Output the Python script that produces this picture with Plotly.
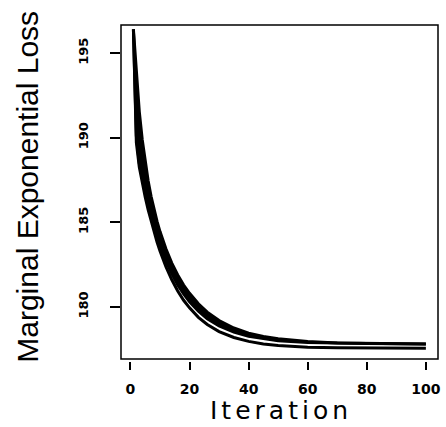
import plotly.graph_objects as go

# Marginal exponential loss per iteration for three runs
iterations = [1, 2, 3, 4, 5, 6, 7, 8, 9, 10, 12, 14, 16, 18, 20, 23, 26, 30,
              35, 40, 45, 50, 60, 70, 80, 90, 100]

loss_lower = [196.40, 189.71, 188.25, 187.30, 186.48, 185.73, 185.04, 184.41,
              183.83, 183.30, 182.37, 181.60, 180.94, 180.39, 179.94, 179.38,
              178.96, 178.54, 178.19, 177.96, 177.81, 177.72, 177.62, 177.58,
              177.56, 177.55, 177.55]

loss_upper_fast = [196.40, 190.11, 188.47, 187.52, 186.71, 185.98, 185.32,
                   184.71, 184.14, 183.63, 182.72, 181.95, 181.30, 180.76,
                   180.30, 179.74, 179.30, 178.87, 178.51, 178.26, 178.11,
                   178.00, 177.89, 177.85, 177.83, 177.82, 177.81]

loss_upper_slow = [196.40, 193.64, 191.53, 189.87, 188.54, 187.44, 186.52,
                   185.74, 185.05, 184.45, 183.43, 182.59, 181.89, 181.29,
                   180.80, 180.18, 179.69, 179.19, 178.75, 178.45, 178.25,
                   178.11, 177.95, 177.87, 177.84, 177.82, 177.81]

x_ticks = [0, 20, 40, 60, 80, 100]
y_ticks = [180, 185, 190, 195]

LINE_W = 3

fig = go.Figure()
fig.add_trace(go.Scatter(x=iterations, y=loss_upper_fast, mode="lines",
                         line=dict(color="black", width=LINE_W)))
fig.add_trace(go.Scatter(x=iterations, y=loss_upper_slow, mode="lines",
                         line=dict(color="black", width=LINE_W),
                         fill="tonexty", fillcolor="black"))
fig.add_trace(go.Scatter(x=iterations, y=loss_lower, mode="lines",
                         line=dict(color="black", width=LINE_W)))

fig.update_layout(
    width=446, height=427,
    margin=dict(l=121, r=5, t=25, b=66),
    paper_bgcolor="white", plot_bgcolor="white",
    showlegend=False,
    xaxis=dict(
        range=[-3.2, 104.1], tickvals=x_ticks,
        ticktext=[str(v) for v in x_ticks],
        showgrid=False, zeroline=False, showline=False,
        ticks="outside", ticklen=8, tickwidth=1.5, tickcolor="black",
        tickfont=dict(family="DejaVu Sans", size=14, color="black",
                      weight="bold"),
        ticklabelstandoff=7,
        anchor="free", position=0,
    ),
    yaxis=dict(
        range=[176.92, 196.66], tickvals=y_ticks,
        ticktext=[str(v) for v in y_ticks],
        domain=[0.006, 1],
        showgrid=False, zeroline=False, showline=False,
        ticks="outside", ticklen=10, tickwidth=1.5, tickcolor="black",
        tickangle=-90,
        tickfont=dict(family="DejaVu Sans", size=13, color="black",
                      weight="bold"),
        ticklabelstandoff=17,
    ),
    shapes=[dict(type="rect", xref="x domain", yref="y domain",
                 x0=0, x1=1, y0=0, y1=1,
                 line=dict(color="black", width=1.5))],
    annotations=[
        dict(text='<span style="letter-spacing:4px">Iteration</span>',
             xref="paper", yref="paper",
             x=0.505, y=-0.1964, xanchor="center", yanchor="bottom",
             showarrow=False,
             font=dict(family="DejaVu Sans", size=25, color="black")),
        dict(text="Marginal Exponential Loss", xref="paper", yref="paper",
             x=-0.294, y=0.518, xanchor="center", yanchor="middle",
             textangle=-90, showarrow=False,
             font=dict(family="Liberation Sans", size=30, color="black")),
    ],
)

fig.write_html("out.html")
